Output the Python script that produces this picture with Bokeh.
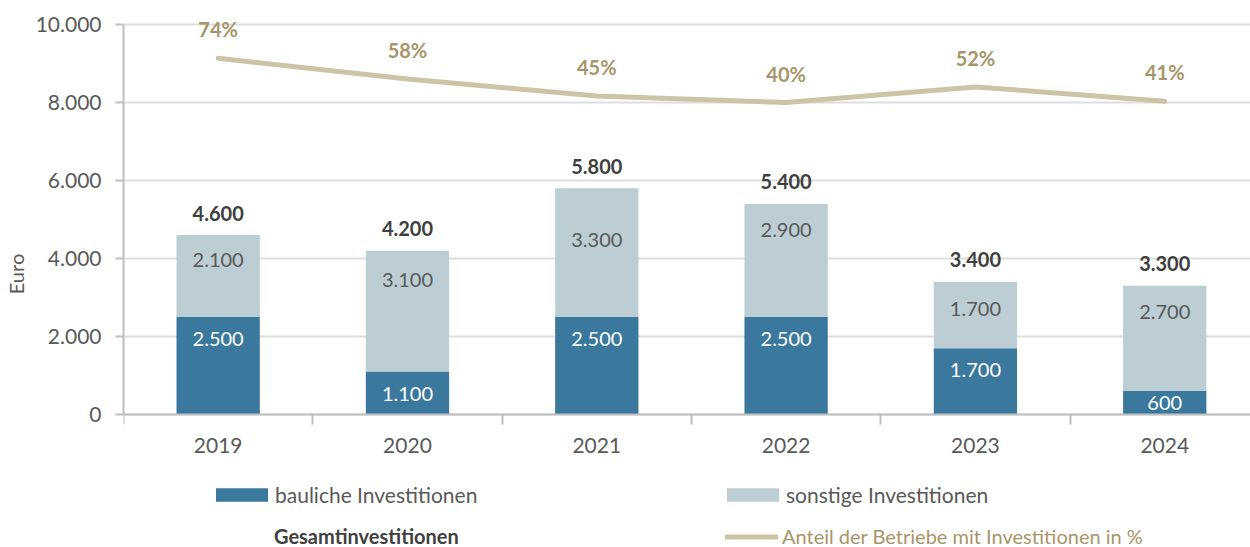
from bokeh.plotting import figure
from bokeh.models import (ColumnDataSource, Range1d, FixedTicker, LabelSet,
                          Legend, LegendItem)
from bokeh.core.properties import value
from bokeh.embed import file_html
from bokeh.resources import INLINE

# ---------------- data ----------------
years = ["2019", "2020", "2021", "2022", "2023", "2024"]
bauliche = [2500, 1100, 2500, 2500, 1700, 600]
sonstige = [2100, 3100, 3300, 2900, 1700, 2700]
gesamt = [4600, 4200, 5800, 5400, 3400, 3300]
anteil = [74, 58, 45, 40, 52, 41]
y_ticks = [0, 2000, 4000, 6000, 8000, 10000]

# label nudges (screen px, style only)
sonst_label_offset = [-25, -29, -52, -26, -27, -26]


def de(n):
    return f"{n:,}".replace(",", ".")


FONT = "Lato"
GRAY = "#595959"
DARK = "#404040"
GOLD_TXT = "#a8956a"
LINE_COL = "#cdc3a7"
BAU_COL = "#3b789e"
SON_COL = "#bccdd3"

# layout: 0 at canvas y=414, 10000 at canvas y=24, canvas height 547
W, H = 1250, 547
PX = 390 / 10000.0
Y_END = 10000 + 24 / PX
Y_START = -(H - 414) / PX
FRAME_LEFT = 123

x = list(range(len(years)))
son_top = [b + s for b, s in zip(bauliche, sonstige)]
bau_label_y = [b if b >= 1000 else b / 2 for b in bauliche]
bau_label_off = [-22 if b >= 1000 else 0 for b in bauliche]

src = ColumnDataSource(dict(
    x=x, bau=bauliche, son_top=son_top, gesamt=gesamt, anteil=anteil,
    bau_txt=[de(v) for v in bauliche], son_txt=[de(v) for v in sonstige],
    ges_txt=[de(v) for v in gesamt], ant_txt=[f"{v}%" for v in anteil],
    bau_ly=bau_label_y, bau_lo=bau_label_off, son_lo=sonst_label_offset,
))

p = figure(width=W, height=H, output_backend="svg", toolbar_location=None,
           x_range=Range1d(-0.5, 5.453), y_range=Range1d(Y_START, Y_END),
           min_border_left=FRAME_LEFT, min_border_right=0, min_border_top=0,
           min_border_bottom=0)
p.outline_line_color = None
p.extra_y_ranges = {"pct": Range1d(-200 + (Y_START / 10000) * 300,
                                   -200 + (Y_END / 10000) * 300)}

r_bau = p.vbar(x="x", bottom=0, top="bau", width=0.44, source=src,
               fill_color=BAU_COL, line_color=None)
r_son = p.vbar(x="x", bottom="bau", top="son_top", width=0.44, source=src,
               fill_color=SON_COL, line_color=None)
r_ges = p.vbar(x="x", bottom=0, top="gesamt", width=0.44, source=src,
               fill_alpha=0, line_alpha=0)
r_line = p.line(x="x", y="anteil", source=src, y_range_name="pct",
                line_color=LINE_COL, line_width=5, line_cap="round",
                line_join="round")

common = dict(source=src, text_font=value(FONT), text_font_size="20px",
              text_align="center", text_baseline="middle")
p.add_layout(LabelSet(x="x", y="bau_ly", text="bau_txt", y_offset="bau_lo",
                      text_color="white", **common))
p.add_layout(LabelSet(x="x", y="son_top", text="son_txt", y_offset="son_lo",
                      text_color=GRAY, **common))
p.add_layout(LabelSet(x="x", y="gesamt", text="ges_txt", y_offset=22,
                      text_color=DARK, text_font_style="bold", **common))
p.add_layout(LabelSet(x="x", y="anteil", text="ant_txt", y_offset=29,
                      y_range_name="pct", text_color=GOLD_TXT,
                      text_font_style="bold", **common))

# axes
yax = p.yaxis[0]
yax.bounds = (0, 10000)
yax.ticker = FixedTicker(ticks=y_ticks)
yax.major_label_overrides = {t: de(t) for t in y_ticks}
yax.axis_label = "Euro"
yax.axis_label_text_font = FONT
yax.axis_label_text_font_size = "20px"
yax.axis_label_text_font_style = "normal"
yax.axis_label_text_color = GRAY
yax.axis_label_standoff = 5
yax.major_label_text_font = FONT
yax.major_label_text_font_size = "21px"
yax.major_label_text_color = GRAY
yax.major_label_standoff = 14
yax.axis_line_color = "#bfbfbf"
yax.axis_line_width = 2
yax.major_tick_line_color = "#bfbfbf"
yax.major_tick_line_width = 2
yax.major_tick_out = 8
yax.major_tick_in = 0
yax.minor_tick_line_color = None

xax = p.xaxis[0]
xax.fixed_location = 0
xax.ticker = FixedTicker(ticks=x, minor_ticks=[i - 0.5 for i in range(len(years) + 1)])
xax.major_label_overrides = {i: y for i, y in enumerate(years)}
xax.major_label_text_font = FONT
xax.major_label_text_font_size = "21px"
xax.major_label_text_color = GRAY
xax.major_label_standoff = 13
xax.major_tick_line_color = None
xax.major_tick_out = 0
xax.major_tick_in = 0
xax.minor_tick_line_color = "#bfbfbf"
xax.minor_tick_line_width = 2
xax.minor_tick_out = 10
xax.minor_tick_in = 0
xax.axis_line_color = "#bfbfbf"
xax.axis_line_width = 2

p.xgrid.grid_line_color = None
p.ygrid.ticker = FixedTicker(ticks=y_ticks)
p.ygrid.grid_line_color = "#dedede"
p.ygrid.grid_line_width = 2


def add_leg(label, rend, x0, yc, color, gw, gh, standoff, size, style="normal"):
    leg = Legend(items=[LegendItem(label=label, renderers=[rend])],
                 location=(x0 - FRAME_LEFT, (H - yc) - 10),
                 border_line_color=None, background_fill_alpha=0,
                 padding=0, margin=0, glyph_width=gw, glyph_height=gh,
                 label_standoff=standoff, label_text_font=FONT,
                 label_text_font_size=size, label_text_color=color,
                 label_text_font_style=style, label_height=20,
                 label_text_baseline="middle")
    p.add_layout(leg)


# area swatches are drawn with a 10% inset inside the glyph box
add_leg("bauliche Investitionen", r_bau, 209, 497, GRAY, 65, 17, 1, "21px")
add_leg("sonstige Investitionen", r_son, 720, 497, GRAY, 65, 17, 1, "21px")
add_leg("Gesamtinvestitionen", r_ges, 209, 538, DARK, 65, 17, 0, "20px", "bold")
add_leg("Anteil der Betriebe mit Investitionen in %", r_line, 725, 538,
        GOLD_TXT, 53, 17, 4, "20px")

open("out.html", "w").write(file_html(p, INLINE))
